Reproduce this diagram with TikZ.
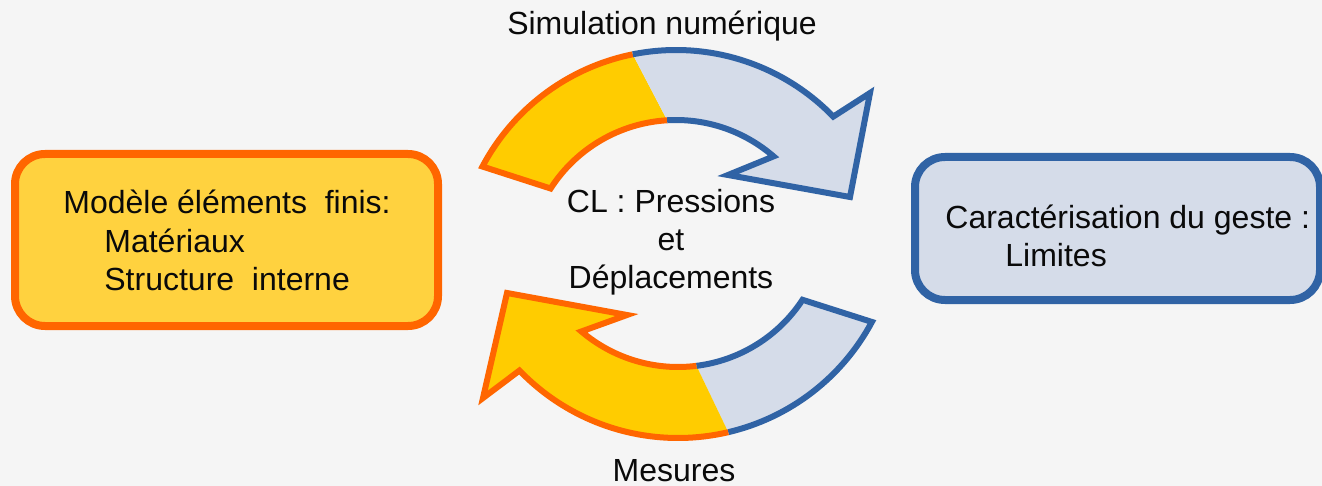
\documentclass[tikz,border=0pt]{standalone}
\usepackage{fontspec}
\setmainfont{Liberation Sans}
\usetikzlibrary{calc}
\definecolor{cyInk}{HTML}{0A0A0A}
\definecolor{cyOrange}{HTML}{FF6600}
\definecolor{cyYellow}{HTML}{FFCC00}
\definecolor{cyGold}{HTML}{FFD23F}
\definecolor{cyBlue}{HTML}{3063A5}
\definecolor{cyPale}{HTML}{D5DCE9}
\definecolor{cyBack}{HTML}{F5F5F5}
\tikzset{
 cycle/.style={font=\fontsize{16}{19.25}\selectfont,text=cyInk,line join=miter},
 box/.style={rectangle,rounded corners=15pt,line width=4pt,inner sep=0pt},
 modelbox/.style={box,draw=cyOrange,fill=cyGold},
 gestebox/.style={box,draw=cyBlue,fill=cyPale},
 txt/.style={inner sep=0pt,align=left},
 ctxt/.style={inner sep=0pt,align=center},
 halfY/.style={fill=cyYellow},
 halfB/.style={fill=cyPale},
 rimO/.style={draw=cyOrange,line width=3pt},
 rimB/.style={draw=cyBlue,line width=3pt}
}
\begin{document}
\begin{tikzpicture}[cycle,x=0.5pt,y=0.5pt]
 \useasboundingbox (0,0) rectangle (1322,-486);
 \fill[cyBack] (0,0) rectangle (1322,-486);
 \coordinate (topC) at (676,-269);
 \coordinate (botC) at (678,-218);
 % boxes
 \node[modelbox,minimum width=211.5pt,minimum height=86pt] (modele) at (226.5,-240) {};
 \node[gestebox,minimum width=202.5pt,minimum height=71.5pt] (geste) at (1117.5,-228.5) {};
 \node[txt,anchor=base west] (modeletxt) at (63,-291)
  {Modèle éléments~ finis:\\\hspace*{20.5pt}Matériaux\\\hspace*{20.5pt}Structure~ interne};
 \node[txt,anchor=base west] (gestetxt) at (945,-267)
  {Caractérisation du geste :\\\hspace*{30pt}Limites};
 % upper arrow
 \fill[halfY] ($(topC)+(152.1:109.5pt)$) arc[start angle=152.1,end angle=101.4,radius=109.5pt]
  -- ($(topC)+(93.4:74.5pt)$) arc[start angle=93.4,end angle=147.3,radius=74.5pt] -- cycle;
 \fill[halfB] ($(topC)+(101.4:109.5pt)$) arc[start angle=101.4,end angle=44.1,radius=109.5pt]
  -- (870,-93) -- (850,-197) -- (728,-175)
  -- ($(topC)+(49.1:74.5pt)$) arc[start angle=49.1,end angle=93.4,radius=74.5pt] -- cycle;
 \draw[rimO] ($(topC)+(101.4:109.5pt)$) arc[start angle=101.4,end angle=152.1,radius=109.5pt]
  -- ($(topC)+(147.3:74.5pt)$) arc[start angle=147.3,end angle=93.4,radius=74.5pt];
 \draw[rimB] ($(topC)+(101.4:109.5pt)$) arc[start angle=101.4,end angle=44.1,radius=109.5pt]
  -- (870,-93) -- (850,-197) -- (728,-175)
  -- ($(topC)+(49.1:74.5pt)$) arc[start angle=49.1,end angle=93.4,radius=74.5pt];
 % lower arrow
 \fill[halfB] ($(botC)+(-28.2:110pt)$) arc[start angle=-28.2,end angle=-76.8,radius=110pt]
  -- ($(botC)+(-82.9:74.5pt)$) arc[start angle=-82.9,end angle=-33.3,radius=74.5pt] -- cycle;
 \fill[halfY] ($(botC)+(-76.8:110pt)$) arc[start angle=-76.8,end angle=-136.1,radius=110pt]
  -- (483,-398) -- (507,-293) -- (627,-315)
  -- ($(botC)+(229.6:74.5pt)$) arc[start angle=229.6,end angle=277.1,radius=74.5pt] -- cycle;
 \draw[rimB] ($(botC)+(-76.8:110pt)$) arc[start angle=-76.8,end angle=-28.2,radius=110pt]
  -- ($(botC)+(-33.3:74.5pt)$) arc[start angle=-33.3,end angle=-82.9,radius=74.5pt];
 \draw[rimO] ($(botC)+(-76.8:110pt)$) arc[start angle=-76.8,end angle=-136.1,radius=110pt]
  -- (483,-398) -- (507,-293) -- (627,-315)
  -- ($(botC)+(229.6:74.5pt)$) arc[start angle=229.6,end angle=277.1,radius=74.5pt];
 % labels
 \node[ctxt,anchor=base] (simu) at (662,-35) {Simulation numérique};
 \node[ctxt,anchor=base] (cl) at (671,-289) {CL : Pressions\\et\\Déplacements};
 \node[ctxt,anchor=base] (mesures) at (674,-481) {Mesures};
\end{tikzpicture}
\end{document}
